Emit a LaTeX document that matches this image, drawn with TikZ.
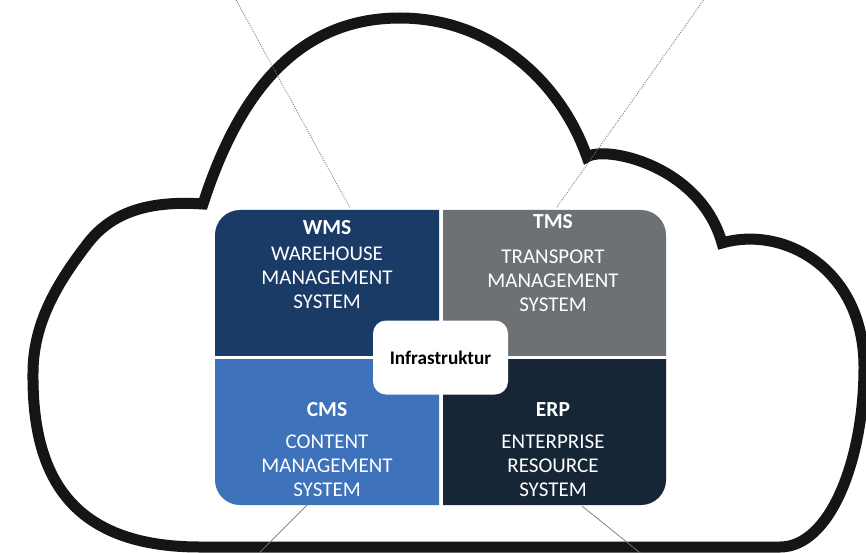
\documentclass[tikz,border=0pt]{standalone}
\usepackage{fontspec}
\setmainfont{Carlito}
\definecolor{cloudink}{RGB}{22,20,22}
\definecolor{wmsfill}{RGB}{27,59,103}
\definecolor{tmsfill}{RGB}{110,113,116}
\definecolor{cmsfill}{RGB}{62,114,186}
\definecolor{erpfill}{RGB}{22,38,55}
\definecolor{pingray}{RGB}{120,120,120}
\begin{document}
\begin{tikzpicture}[x=1pt,y=-1pt,
  cloudline/.style={draw=cloudink, line width=11pt, line join=miter, miter limit=30},
  dotpin/.style={draw=pingray, line width=0.9pt, dash pattern=on 0.9pt off 1.3pt},
  solidpin/.style={draw=pingray, line width=0.7pt},
  head/.style={text=white, inner sep=0pt, anchor=base, font=\bfseries\fontsize{21.5}{24}\selectfont},
  body/.style={text=white, inner sep=0pt, anchor=north, align=center, font=\fontsize{21}{24}\selectfont},
  infrabox/.style={fill=white, rounded corners=13pt, minimum width=135pt, minimum height=74pt, inner sep=0pt,
    font=\bfseries\fontsize{19.2}{22}\selectfont}]
\useasboundingbox (0,0) rectangle (866,553);
\fill[white] (0,0) rectangle (866,553);

% cloud outline
\filldraw[cloudline, fill=white]
  (203,204) .. controls (235,105) and (290,18) .. (400,18)
  .. controls (490,18) and (560,80) .. (587,157)
  .. controls (605,145) and (700,165) .. (722,243)
  .. controls (785,225) and (864,270) .. (864,367)
  .. controls (864,460) and (830,547) .. (780,547)
  -- (200,547)
  .. controls (70,547) and (32,475) .. (33,373)
  .. controls (33,323) and (57.5,282.5) .. (88,243)
  .. controls (115.5,207.5) and (158,201) .. (203,204)
  -- cycle;

% the four modules
\begin{scope}
  \clip (215,210) rectangle (439,355);
  \fill[wmsfill, rounded corners=25pt] (215,210) rectangle (666,505);
\end{scope}
\begin{scope}
  \clip (443,210) rectangle (666,355);
  \fill[tmsfill, rounded corners=25pt] (215,210) rectangle (666,505);
\end{scope}
\begin{scope}
  \clip (215,359) rectangle (439,505);
  \fill[cmsfill, rounded corners=25pt] (215,210) rectangle (666,505);
\end{scope}
\begin{scope}
  \clip (443,359) rectangle (666,505);
  \fill[erpfill, rounded corners=25pt] (215,210) rectangle (666,505);
\end{scope}

\node[head] (wmsT) at (327,234.5) {WMS};
\node[body] (wms) at (327,246.5) {WAREHOUSE\\MANAGEMENT\\SYSTEM};
\node[head] (tmsT) at (553,228.5) {TMS};
\node[body] (tms) at (553,249.5) {TRANSPORT\\MANAGEMENT\\SYSTEM};
\node[head] (cmsT) at (327,416.5) {CMS};
\node[body] (cms) at (327,434.5) {CONTENT\\MANAGEMENT\\SYSTEM};
\node[head] (erpT) at (553,416.5) {ERP};
\node[body] (erp) at (553,434.5) {ENTERPRISE\\RESOURCE\\SYSTEM};

\node[infrabox] (infra) at (440.5,357.5) {Infrastruktur};

% leader lines
\coordinate (wmsFar) at (235,-2);
\coordinate (wmsPin) at (350,208);
\coordinate (tmsFar) at (705,-2);
\coordinate (tmsPin) at (557,207);
\coordinate (cmsPin) at (307,505);
\coordinate (cmsFar) at (256,556);
\coordinate (erpPin) at (582,506);
\coordinate (erpFar) at (644,556);
\draw[dotpin] (wmsFar) -- (wmsPin);
\draw[dotpin] (tmsFar) -- (tmsPin);
\draw[solidpin] (cmsPin) -- (cmsFar);
\draw[solidpin] (erpPin) -- (erpFar);
\end{tikzpicture}
\end{document}
